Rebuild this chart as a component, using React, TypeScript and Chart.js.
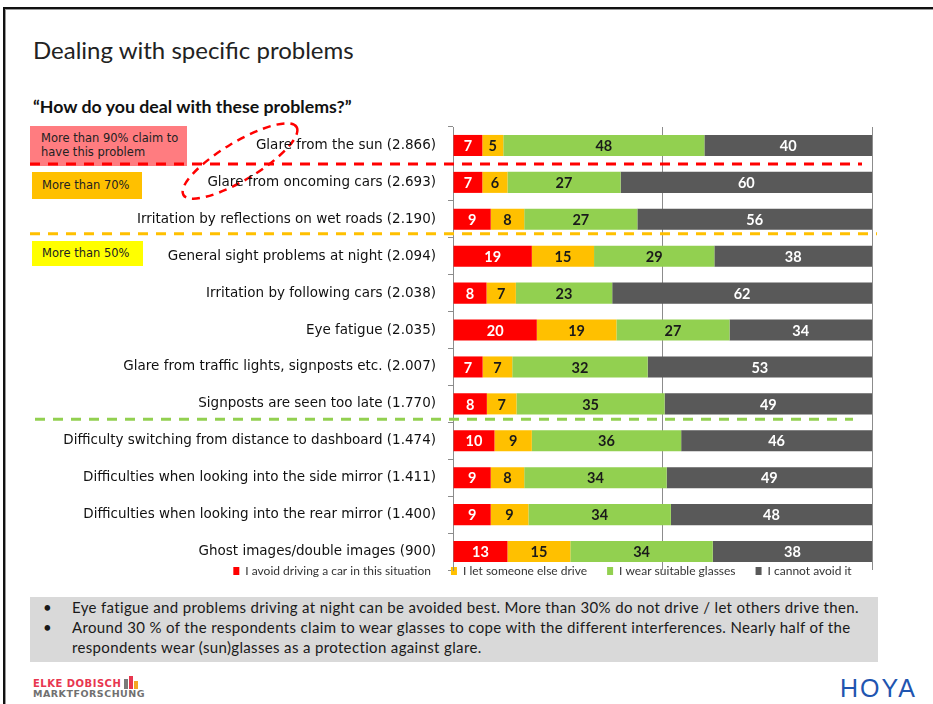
import React, { useEffect, useRef } from "react";
import { Chart, registerables } from "chart.js";

Chart.register(...registerables);

const categories = [
  "Glare from the sun (2.866)",
  "Glare from oncoming cars (2.693)",
  "Irritation by reflections on wet roads (2.190)",
  "General sight problems at night (2.094)",
  "Irritation by following cars (2.038)",
  "Eye fatigue (2.035)",
  "Glare from traffic lights, signposts etc. (2.007)",
  "Signposts are seen too late (1.770)",
  "Difficulty switching from distance to dashboard (1.474)",
  "Difficulties when looking into the side mirror (1.411)",
  "Difficulties when looking into the rear mirror (1.400)",
  "Ghost images/double images (900)",
];

const seriesNames = [
  "I avoid driving a car in this situation",
  "I let someone else drive",
  "I wear suitable glasses",
  "I cannot avoid it",
];

const avoidDriving = [7, 7, 9, 19, 8, 20, 7, 8, 10, 9, 9, 13];
const letSomeoneElse = [5, 6, 8, 15, 7, 19, 7, 7, 9, 8, 9, 15];
const wearGlasses = [48, 27, 27, 29, 23, 27, 32, 35, 36, 34, 34, 34];
const cannotAvoid = [40, 60, 56, 38, 62, 34, 53, 49, 46, 49, 48, 38];

const xTicks = [0, 50, 100];

// separator lines drawn after category index
const separatorAfter = [0, 2, 7];
const separatorColors = ["#FF0000", "#FFC000", "#92D050"];

const barColors = ["#FF0000", "#FFC000", "#92D050", "#595959"];
const labelColors = ["#FFFFFF", "#1A1A1A", "#1A1A1A", "#FFFFFF"];

const valueLabelsPlugin = {
  id: "valueLabels",
  afterDatasetsDraw(chart: any) {
    const ctx = chart.ctx;
    chart.data.datasets.forEach((ds: any, di: number) => {
      const meta = chart.getDatasetMeta(di);
      meta.data.forEach((bar: any, i: number) => {
        const v = ds.rawValues[i];
        const p = bar.getProps(["x", "base", "y"], true);
        const cx = (p.x + p.base) / 2;
        ctx.save();
        ctx.font = "bold 14.5px Lato";
        ctx.fillStyle = labelColors[di];
        ctx.textAlign = "center";
        ctx.textBaseline = "middle";
        ctx.fillText(String(v), cx, p.y + 1);
        ctx.restore();
      });
    });
  },
};

const decorPlugin = {
  id: "decor",
  afterLayout(chart: any) {
    const lg = chart.legend;
    if (lg) {
      const h = lg.bottom - lg.top;
      lg.left = chart.chartArea.left - 240;
      lg.right = chart.chartArea.right;
      lg.top = chart.chartArea.bottom - 25;
      lg.bottom = lg.top + h;
    }
  },
  beforeDraw(chart: any) {
    const ctx = chart.ctx;
    // dashed oval around "Glare from"
    ctx.save();
    ctx.strokeStyle = "#FF0000";
    ctx.lineWidth = 2.5;
    ctx.setLineDash([8, 6]);
    ctx.beginPath();
    ctx.ellipse(240, 161 - 118, 66, 19, (-31 * Math.PI) / 180, 0, Math.PI * 2);
    ctx.stroke();
    ctx.restore();
  },
  afterDraw(chart: any) {
    const ctx = chart.ctx;
    const ys = chart.scales.y;
    const xs = [
      [30, 862],
      [30, 877],
      [35, 853],
    ];
    const dy = [0, -4, -3];
    separatorAfter.forEach((idx, k) => {
      const y = (ys.getPixelForValue(idx) + ys.getPixelForValue(idx + 1)) / 2 + dy[k];
      ctx.save();
      ctx.strokeStyle = separatorColors[k];
      ctx.lineWidth = 3;
      ctx.setLineDash([10, 8]);
      ctx.beginPath();
      ctx.moveTo(xs[k][0], y);
      ctx.lineTo(xs[k][1], y);
      ctx.stroke();
      ctx.restore();
    });
  },
};

function BarChart() {
  const ref = useRef<HTMLCanvasElement>(null);
  useEffect(() => {
    if (!ref.current) return;
    const series = [avoidDriving, letSomeoneElse, wearGlasses, cannotAvoid];
    // 100% stacked: each segment as share of its row total
    const totals = categories.map((_, i) => series.reduce((s, d) => s + d[i], 0));
    const chart = new Chart(ref.current, {
      type: "bar",
      data: {
        labels: categories,
        datasets: series.map((d, i) => ({
          label: seriesNames[i],
          data: d.map((v, j) => (v / totals[j]) * 100),
          rawValues: d,
          backgroundColor: barColors[i],
          borderWidth: 0,
          barPercentage: 0.57,
          categoryPercentage: 1,
        })) as any,
      },
      options: {
        indexAxis: "y",
        animation: false,
        responsive: false,
        maintainAspectRatio: false,
        layout: { padding: { top: 9, right: 61, left: 0, bottom: 0 } },
        plugins: {
          legend: {
            display: true,
            position: "bottom",
            labels: {
              boxWidth: 6,
              boxHeight: 8,
              padding: 20,
              color: "#333333",
              font: { family: "Lato", size: 12 },
            },
          },
          tooltip: { enabled: false },
        },
        scales: {
          x: {
            stacked: true,
            min: 0,
            max: 100,
            afterBuildTicks: (scale: any) => {
              scale.ticks = xTicks.map((v) => ({ value: v }));
            },
            ticks: { display: false },
            grid: { color: "#8C8C8C", lineWidth: 1, drawTicks: false },
            border: { display: false },
          },
          y: {
            stacked: true,
            afterFit: (scale: any) => {
              scale.width = 453;
              scale.paddingTop = 0;
              scale.paddingBottom = 0;
            },
            ticks: {
              color: "#111111",
              padding: 12,
              font: { family: "DejaVu Sans", size: 13.5 },
              autoSkip: false,
            },
            grid: {
              drawOnChartArea: false,
              drawTicks: true,
              tickLength: 5,
              color: "#8C8C8C",
            },
            border: { display: true, color: "#8C8C8C", width: 1 },
          },
        },
      },
      plugins: [valueLabelsPlugin, decorPlugin],
    });
    return () => chart.destroy();
  }, []);
  return (
    <canvas
      ref={ref}
      width={933}
      height={494}
      style={{ position: "absolute", left: 0, top: 118, width: 933, height: 494 }}
    />
  );
}

export default function App() {
  const box: React.CSSProperties = {
    position: "absolute",
    fontFamily: "DejaVu Sans",
    fontSize: 11.5,
    color: "#222",
    boxSizing: "border-box",
    whiteSpace: "nowrap",
  };
  return (
    <div
      style={{
        position: "absolute",
        left: 0,
        top: 0,
        width: 933,
        height: 704,
        background: "#fff",
        overflow: "hidden",
      }}
    >
      <div
        style={{
          position: "absolute",
          left: 3,
          top: 7,
          width: 960,
          height: 760,
          borderTop: "2px solid #111",
          borderLeft: "2px solid #111",
          boxShadow: "inset 1px 1px 0 #999",
        }}
      />
      <div
        style={{
          position: "absolute",
          left: 33,
          top: 35,
          fontFamily: "Lato",
          fontSize: 24,
          lineHeight: "30px",
          color: "#222",
        }}
      >
        Dealing with specific problems
      </div>
      <div
        style={{
          position: "absolute",
          left: 33,
          top: 95,
          fontFamily: "Lato",
          fontWeight: 700,
          fontSize: 17.75,
          lineHeight: "22px",
          color: "#111",
        }}
      >
        “How do you deal with these problems?”
      </div>
      <div
        style={{
          ...box,
          left: 30,
          top: 126,
          width: 157,
          height: 40,
          background: "#FF7C80",
          padding: "5px 0 0 11px",
          lineHeight: "14px",
        }}
      >
        More than 90% claim to
        <br />
        have this problem
      </div>
      <div
        style={{
          ...box,
          left: 32,
          top: 172,
          width: 110,
          height: 27,
          background: "#FFC000",
          padding: "0 0 0 10px",
          lineHeight: "27px",
        }}
      >
        More than 70%
      </div>
      <div
        style={{
          ...box,
          left: 32,
          top: 241,
          width: 111,
          height: 25,
          background: "#FFFF00",
          padding: "0 0 0 10px",
          lineHeight: "25px",
        }}
      >
        More than 50%
      </div>
      <BarChart />
      <div
        style={{
          position: "absolute",
          left: 30,
          top: 597,
          width: 848,
          height: 65,
          background: "#D9D9D9",
          fontFamily: "Lato",
          fontSize: 15,
          letterSpacing: 0.35,
          lineHeight: "20px",
          color: "#1A1A1A",
          padding: "0 0 0 0",
          boxSizing: "border-box",
        }}
      >
        <div style={{ position: "relative", paddingLeft: 42 }}>
          <span style={{ position: "absolute", left: 13 }}>•</span>
          Eye fatigue and problems driving at night can be avoided best. More than 30% do not drive / let others drive then.
        </div>
        <div style={{ position: "relative", paddingLeft: 42, paddingRight: 20 }}>
          <span style={{ position: "absolute", left: 13 }}>•</span>
          Around 30 % of the respondents claim to wear glasses to cope with the different interferences. Nearly half of the respondents wear (sun)glasses as a protection against glare.
        </div>
      </div>
      <div style={{ position: "absolute", left: 33, top: 679, lineHeight: "10px" }}>
        <div
          style={{
            fontFamily: "DejaVu Sans",
            fontWeight: 700,
            fontSize: 10,
            color: "#E8364F",
            letterSpacing: 0.5,
          }}
        >
          ELKE DOBISCH
        </div>
        <div
          style={{
            fontFamily: "DejaVu Sans",
            fontWeight: 700,
            fontSize: 9.5,
            color: "#707070",
            letterSpacing: 0.5,
          }}
        >
          MARKTFORSCHUNG
        </div>
        <div style={{ position: "absolute", left: 91, top: 0, width: 4, height: 10, background: "#7A7A7A" }} />
        <div style={{ position: "absolute", left: 96, top: -3, width: 4, height: 13, background: "#E8364F" }} />
        <div style={{ position: "absolute", left: 101, top: 2, width: 4, height: 8, background: "#F5A623" }} />
      </div>
      <div
        style={{
          position: "absolute",
          left: 840,
          top: 673,
          fontFamily: "Liberation Sans",
          fontSize: 25,
          fontWeight: 400,
          color: "#1F55B0",
          letterSpacing: 2,
          lineHeight: "30px",
        }}
      >
        HOYA
      </div>
    </div>
  );
}
